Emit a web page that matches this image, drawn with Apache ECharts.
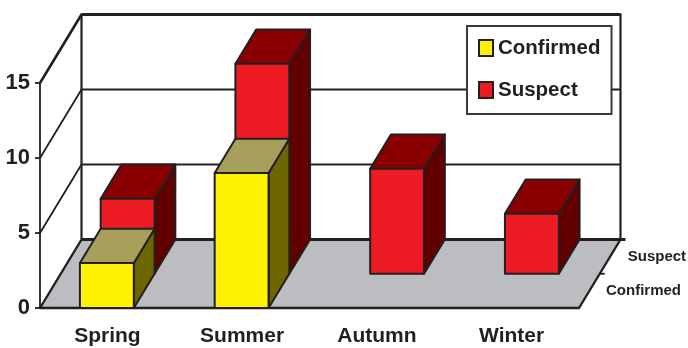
<!DOCTYPE html>
<html>
<head>
<meta charset="utf-8">
<style>html,body{margin:0;padding:0;background:#fff}#chart{width:688px;height:348px}</style>
<script src="https://cdn.jsdelivr.net/npm/echarts@6/dist/echarts.min.js"></script>
</head>
<body>
<div id="chart"></div>
<script>
// Seasonal case counts, shown as a pseudo-3D bar chart with two depth rows.
var seasons = ['Spring', 'Summer', 'Autumn', 'Winter'];
var confirmed = [3, 9, null, null];
var suspect = [5, 14, 7, 4];
var depthRows = ['Confirmed', 'Suspect'];
var yTicks = [0, 5, 10, 15];

var FONT = '"Liberation Sans", Arial, sans-serif';
var INK = '#231F20';
var STEP = [20.75, -34.25]; // screen offset of one depth row
var DEPTH = [STEP[0] * 2, STEP[1] * 2];

function poly(points, fill, w) {
  return { type: 'polygon', shape: { points: points }, style: { fill: fill, stroke: INK, lineWidth: w || 2, lineJoin: 'round' } };
}
function seg(a, b, w) {
  return { type: 'line', shape: { x1: a[0], y1: a[1], x2: b[0], y2: b[1] }, style: { stroke: INK, lineWidth: w, lineCap: 'butt' } };
}

// Floor, back wall, side wall, gridlines and the depth axis.
function renderFrame(params, api) {
  var g = params.coordSys;
  var left = g.x, right = g.x + g.width, base = api.coord([0, 0])[1];
  var shift = function (p, d) { return [p[0] + d[0], p[1] + d[1]]; };
  var fl = [left, base], fr = [right, base];
  var bl = shift(fl, DEPTH), br = shift(fr, DEPTH);
  var kids = [poly([fl, fr, br, bl], '#BBBDC0', 1)];
  kids[0].style.stroke = null;
  yTicks.forEach(function (t) {
    if (t === 0) return;
    var y = api.coord([0, t])[1];
    var top = t === yTicks[yTicks.length - 1];
    kids.push(seg([left, y], shift([left, y], DEPTH), top ? 2.6 : 1.8));
    kids.push(seg(shift([left, y], DEPTH), shift([right, y], DEPTH), top ? 2.8 : 1.8));
  });
  var topY = api.coord([0, yTicks[yTicks.length - 1]])[1] + DEPTH[1];
  kids.push(seg([bl[0], bl[1]], [bl[0], topY - 1], 2.2));
  kids.push(seg([br[0], br[1]], [br[0], topY - 1], 2.2));
  kids.push(seg(fl, bl, 2.4));
  kids.push(seg(bl, [br[0] + 5, br[1]], 2.8));
  kids.push(seg(fr, br, 2.4));
  // depth-axis tick and row names
  var mid = shift(fr, STEP);
  kids.push(seg(mid, [mid[0] + 5, mid[1]], 1.8));
  depthRows.forEach(function (name, i) {
    var anchor = shift(fr, [STEP[0] * i, STEP[1] * i]);
    kids.push({
      type: 'text',
      style: { text: name, x: anchor[0] + (i ? 28 : 27), y: anchor[1] - 17, font: 'bold 15px ' + FONT, fill: INK, verticalAlign: 'middle' }
    });
  });
  return { type: 'group', children: kids };
}

// One oblique box per season, placed on the given depth row.
function boxRenderer(row, front, top, side) {
  return function (params, api) {
    var v = api.value(1);
    if (v == null || isNaN(v)) return null;
    var c0 = api.coord([api.value(0), 0]);
    var c1 = api.coord([api.value(0), v]);
    var w = api.size([1, 0])[0] * 0.4;
    var ox = STEP[0] * row, oy = STEP[1] * row;
    var x0 = c0[0] - w / 2 + ox - 0.5, x1 = x0 + w, yb = c0[1] + oy, yt = c1[1] + oy;
    var dx = STEP[0], dy = STEP[1];
    return {
      type: 'group',
      children: [
        poly([[x1, yb], [x1 + dx, yb + dy], [x1 + dx, yt + dy], [x1, yt]], side),
        poly([[x0, yt], [x1, yt], [x1 + dx, yt + dy], [x0 + dx, yt + dy]], top),
        poly([[x0, yb], [x1, yb], [x1, yt], [x0, yt]], front)
      ]
    };
  };
}

function rows(values) {
  return values.map(function (v, i) { return [i, v]; });
}

var chart = echarts.init(document.getElementById('chart'), null, { renderer: 'canvas' });
chart.setOption({
  animation: false,
  grid: { left: 40, right: 109, top: 83, bottom: 40, containLabel: false },
  legend: {
    orient: 'vertical',
    left: 467,
    top: 26,
    itemWidth: 14,
    itemHeight: 16,
    itemGap: 21,
    padding: [11.5, 11, 13.5, 11],
    icon: 'rect',
    backgroundColor: '#fff',
    borderColor: '#3a3a3a',
    borderWidth: 2,
    data: ['Confirmed', 'Suspect'],
    textStyle: { fontFamily: FONT, fontWeight: 'bold', fontSize: 20.5, color: INK }
  },
  xAxis: {
    type: 'category',
    data: seasons,
    axisLine: { onZero: false, lineStyle: { color: INK, width: 2.4 } },
    axisTick: { length: 6, lineStyle: { color: INK, width: 1.6 } },
    axisLabel: { fontFamily: FONT, fontWeight: 'bold', fontSize: 21, color: INK, margin: 18 },
    z: 1
  },
  yAxis: {
    type: 'value',
    min: 0,
    max: 15,
    interval: 5,
    axisLine: { show: true, lineStyle: { color: INK, width: 1.8 } },
    axisTick: { show: true, length: 5, lineStyle: { color: INK, width: 1.8 } },
    axisLabel: { fontFamily: FONT, fontWeight: 'bold', fontSize: 22, color: INK, margin: 10 },
    splitLine: { show: false }
  },
  series: [
    { type: 'custom', name: 'frame', silent: true, z: 1, data: [[0, 0]], renderItem: renderFrame, encode: { x: 0, y: 1 } },
    { type: 'custom', name: 'Suspect', z: 2, data: rows(suspect), renderItem: boxRenderer(1, '#ED1C24', '#8A0000', '#620000'), itemStyle: { color: '#ED1C24', borderColor: INK, borderWidth: 2 }, encode: { x: 0, y: 1 } },
    { type: 'custom', name: 'Confirmed', z: 3, data: rows(confirmed), renderItem: boxRenderer(0, '#FFF200', '#A8A05A', '#6E6600'), itemStyle: { color: '#FFF200', borderColor: INK, borderWidth: 2 }, encode: { x: 0, y: 1 } }
  ]
});
</script>
</body>
</html>
